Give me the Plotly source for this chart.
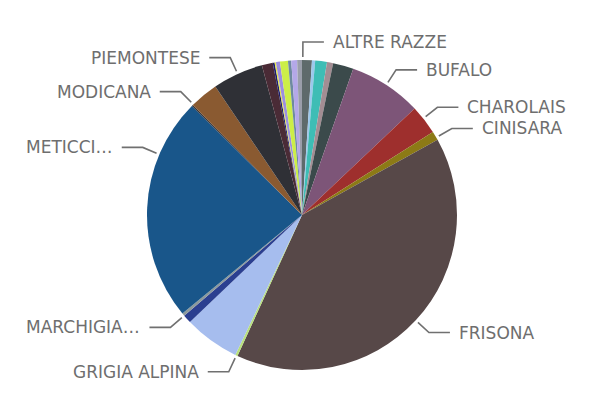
import math
import plotly.graph_objects as go

# categories in the order they appear clockwise from 12 o'clock
breeds = [
    "ALTRE RAZZE", "AUBRAC", "BIANCA VAL PADANA", "BLU BELGA", "BRUNA",
    "BUFALO", "CHAROLAIS", "CINISARA", "FRISONA", "GRIGIA ALPINA",
    "LIMOUSINE", "MARCHIGIANA", "MAREMMANA", "METICCI E INCROCI", "MODENESE",
    "MODICANA", "PIEMONTESE", "PINZGAUER", "PODOLICA", "REGGIANA",
    "RENDENA", "ROMAGNOLA", "SARDA", "SIMMENTAL", "VALDOSTANA",
]
heads = [
    370, 120, 440, 230, 770,
    2730, 1100, 340, 14360, 90,
    2080, 320, 100, 8420, 50,
    1080, 1900, 410, 70, 50,
    150, 300, 120, 220, 180,
]
colors = [
    "#5E6A6B", "#9CC8EC", "#3EBDB5", "#A38D93", "#3B4A4B",
    "#7D5578", "#9E2F2D", "#8C7A16", "#574848", "#B8E07C",
    "#A6BDEE", "#2B3F90", "#8C9A9C", "#19568A", "#2B303A",
    "#8A5A31", "#2F3036", "#4A2B36", "#1E1E6E", "#E6E84A",
    "#9C8FE0", "#CCEE48", "#6E8AA0", "#B4A8E8", "#9A9EAA",
]

# labels shown outside the pie (display text, possibly truncated)
shown = {
    "ALTRE RAZZE": "ALTRE RAZZE",
    "BUFALO": "BUFALO",
    "CHAROLAIS": "CHAROLAIS",
    "CINISARA": "CINISARA",
    "FRISONA": "FRISONA",
    "GRIGIA ALPINA": "GRIGIA ALPINA",
    "MARCHIGIANA": "MARCHIGIA…",
    "METICCI E INCROCI": "METICCI…",
    "MODICANA": "MODICANA",
    "PIEMONTESE": "PIEMONTESE",
}
# leader angle overrides (degrees clockwise from top) where labels were nudged
nudge = {
    "ALTRE RAZZE": 0.3, "CHAROLAIS": 51.5, "CINISARA": 60,
    "MARCHIGIANA": 229.5, "METICCI E INCROCI": 293, "MODICANA": 315.5,
}

# the page body adds an 8px margin, so the figure is a bit smaller than the window
OFF = 8
W, H = 591 - OFF, 401 - OFF
CX, CY, R = 302 - OFF, 215 - OFF, 155

fig = go.Figure(go.Pie(
    labels=breeds,
    values=heads,
    sort=False,
    direction="clockwise",
    rotation=0,
    textinfo="none",
    hoverinfo="label+value+percent",
    marker=dict(colors=colors, line=dict(width=0)),
    domain=dict(x=[(CX - R) / W, (CX + R) / W], y=[1 - (CY + R) / H, 1 - (CY - R) / H]),
    showlegend=False,
))

def px(x, y):
    return x / W, 1 - y / H

total = sum(heads)
cum = 0
shapes, annotations = [], []
for name, v in zip(breeds, heads):
    mid = (cum + v / 2) / total * 360
    cum += v
    if name not in shown:
        continue
    ang = math.radians(nudge.get(name, mid))
    s, c = math.sin(ang), math.cos(ang)
    x0, y0 = CX + 158 * s, CY - 158 * c
    x1, y1 = CX + 173 * s, CY - 173 * c
    side = 1 if s >= 0 else -1
    x2 = x1 + 21 * side
    p0, p1, p2 = px(x0, y0), px(x1, y1), px(x2, y1)
    shapes.append(dict(
        type="path", xref="paper", yref="paper",
        path=f"M{p0[0]},{p0[1]} L{p1[0]},{p1[1]} L{p2[0]},{p2[1]}",
        line=dict(color="#707070", width=1.6),
    ))
    tx, ty = px(x2 + 7 * side, y1)
    annotations.append(dict(
        x=tx, y=ty, xref="paper", yref="paper", text=shown[name], showarrow=False,
        xanchor="left" if side > 0 else "right", yanchor="middle",
        font=dict(family="DejaVu Sans, sans-serif", size=17, color="#6e6e6e"),
    ))

fig.update_layout(
    width=W, height=H,
    margin=dict(l=0, r=0, t=0, b=0),
    paper_bgcolor="white",
    plot_bgcolor="white",
    shapes=shapes,
    annotations=annotations,
)

fig.write_html("out.html")
